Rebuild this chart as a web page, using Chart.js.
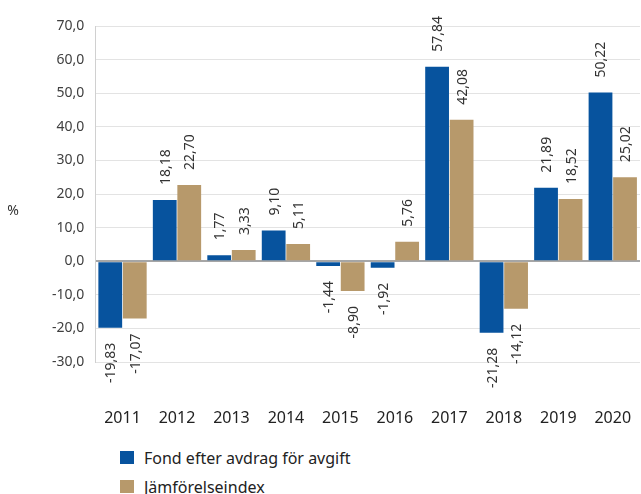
<!DOCTYPE html>
<html>
<head>
<meta charset="utf-8">
<script src="https://cdn.jsdelivr.net/npm/chart.js@4/dist/chart.umd.min.js"></script>
<style>
  html, body { margin: 0; padding: 0; background: #fff; overflow: hidden; }
  #wrap { position: relative; width: 641px; height: 494px; font-family: "Noto Sans", sans-serif; }
  #chart { position: absolute; left: 0; top: 0; display: block; }
  #legend { position: absolute; left: 120px; top: 443px; color: #222; font-size: 16px; }
  .legend-item { display: flex; align-items: center; height: 29px; }
  .legend-box { width: 14px; height: 13px; margin-right: 10px; }
</style>
</head>
<body>
<div id="wrap">
  <canvas id="chart" width="641" height="438"></canvas>
  <div id="legend"></div>
</div>
<script>
const years = ['2011', '2012', '2013', '2014', '2015', '2016', '2017', '2018', '2019', '2020'];
const fundValues = [-19.83, 18.18, 1.77, 9.10, -1.44, -1.92, 57.84, -21.28, 21.89, 50.22];
const indexValues = [-17.07, 22.70, 3.33, 5.11, -8.90, 5.76, 42.08, -14.12, 18.52, 25.02];
const seriesNames = ['Fond efter avdrag för avgift', 'Jämförelseindex'];
const seriesColors = ['#07539e', '#b7996b'];

const fmt = (v, d) => v.toFixed(d).replace('.', ',');

// rotated value labels above/below each bar
const barLabels = {
    id: 'barLabels',
    afterDatasetsDraw(chart) {
        const ctx = chart.ctx;
        ctx.save();
        ctx.font = '14px "Noto Sans"';
        ctx.fillStyle = '#333';
        ctx.textBaseline = 'middle';
        chart.data.datasets.forEach((ds, i) => {
            chart.getDatasetMeta(i).data.forEach((bar, j) => {
                const v = ds.data[j];
                ctx.save();
                if (v >= 0) {
                    ctx.translate(bar.x, bar.y - 15);
                    ctx.rotate(-Math.PI / 2);
                    ctx.textAlign = 'left';
                } else {
                    ctx.translate(bar.x, bar.y + 15);
                    ctx.rotate(-Math.PI / 2);
                    ctx.textAlign = 'right';
                }
                ctx.fillText(fmt(v, 2), 0, 1);
                ctx.restore();
            });
        });
        ctx.restore();
    }
};

const yTitle = {
    id: 'yTitle',
    afterDraw(chart) {
        const ctx = chart.ctx;
        ctx.save();
        ctx.font = '14px "Noto Sans"';
        ctx.fillStyle = '#333';
        ctx.textAlign = 'center';
        ctx.textBaseline = 'middle';
        ctx.fillText('%', 13, 211);
        ctx.restore();
    }
};

new Chart(document.getElementById('chart'), {
    type: 'bar',
    data: {
        labels: years,
        datasets: seriesNames.map((name, i) => ({
            label: name,
            data: i === 0 ? fundValues : indexValues,
            backgroundColor: seriesColors[i],
            categoryPercentage: 0.9,
            barPercentage: 0.97
        }))
    },
    options: {
        responsive: false,
        animation: false,
        layout: { padding: { top: 26, right: 1, left: 41, bottom: 0 } },
        plugins: {
            legend: { display: false },
            tooltip: { enabled: false }
        },
        scales: {
            x: {
                grid: { display: false },
                border: { display: false },
                ticks: { color: '#222', font: { family: 'Noto Sans', size: 16 }, padding: 39 },
                afterFit: s => {
                    s.height = 76;
                    s.paddingLeft = 0;
                    s.paddingRight = 0;
                }
            },
            y: {
                min: -30,
                max: 70,
                ticks: {
                    stepSize: 10,
                    color: '#404040',
                    font: { family: 'Noto Sans', size: 14 },
                    padding: 11,
                    callback: v => fmt(v, 1)
                },
                grid: {
                    drawTicks: false,
                    color: ctx => ctx.tick && ctx.tick.value === 0 ? '#a6a6a6' : '#e3e3e3',
                    lineWidth: ctx => ctx.tick && ctx.tick.value === 0 ? 2 : 1
                },
                border: { color: '#d0d0d0' }
            }
        }
    },
    plugins: [barLabels, yTitle]
});

document.getElementById('legend').innerHTML = seriesNames
    .map((name, i) => `<div class="legend-item"><span class="legend-box" style="background:${seriesColors[i]}"></span>${name}</div>`)
    .join('');
</script>
</body>
</html>
